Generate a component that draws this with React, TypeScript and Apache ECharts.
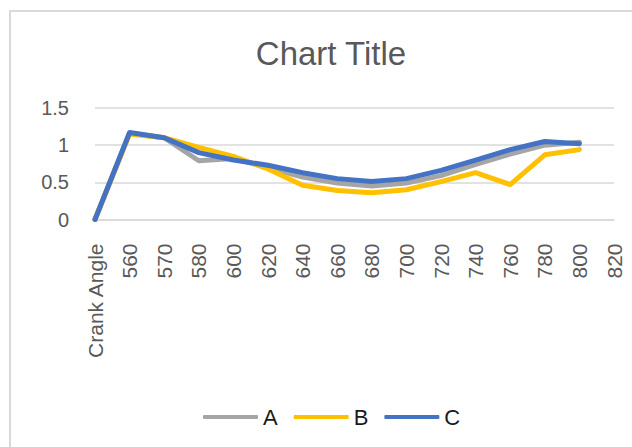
import React, { useEffect, useRef } from "react";
import * as echarts from "echarts";

const categories = ["Crank Angle", "560", "570", "580", "600", "620", "640", "660", "680", "700", "720", "740", "760", "780", "800", "820"];
const seriesA = [0, 1.16, 1.10, 0.79, 0.82, 0.70, 0.57, 0.49, 0.45, 0.49, 0.59, 0.74, 0.88, 1.00, 1.04, null];
const seriesB = [0, 1.15, 1.10, 0.97, 0.85, 0.68, 0.46, 0.39, 0.36, 0.40, 0.51, 0.63, 0.47, 0.87, 0.94, null];
const seriesC = [0, 1.17, 1.10, 0.90, 0.80, 0.73, 0.63, 0.55, 0.51, 0.55, 0.66, 0.80, 0.94, 1.05, 1.02, null];
const seriesNames = ["A", "B", "C"];
const colors = ["#A5A5A5", "#FFC000", "#4472C4"];
const yTicks = { min: 0, max: 1.5, interval: 0.5 };

export default function App() {
  const ref = useRef<HTMLDivElement>(null);
  useEffect(() => {
    if (!ref.current) return;
    const chart = echarts.init(ref.current, undefined, { renderer: "svg" });
    const data = [seriesA, seriesB, seriesC];
    chart.setOption({
      animation: false,
      color: colors,
      title: {
        text: "Chart Title",
        left: 326,
        top: 32,
        textAlign: "center",
        textStyle: {
          fontFamily: "Liberation Sans",
          fontSize: 33,
          fontWeight: "normal",
          color: "#595959",
        },
      },
      graphic: [
        {
          type: "rect",
          shape: { x: 10, y: 11, width: 700, height: 500 },
          style: { fill: "none", stroke: "#d9d9d9", lineWidth: 2 },
          silent: true,
        },
      ],
      legend: {
        left: 198,
        top: 401,
        icon: "roundRect",
        itemWidth: 55,
        itemHeight: 4,
        itemGap: 16,
        textStyle: {
          fontFamily: "Liberation Sans",
          fontSize: 22,
          color: "#1a1a1a",
        },
        data: seriesNames,
      },
      grid: { left: 95, right: 18, top: 108, bottom: 227.5, containLabel: false },
      xAxis: {
        type: "category",
        data: categories,
        boundaryGap: false,
        axisLine: { show: true, lineStyle: { color: "#d9d9d9", width: 1.5 } },
        axisTick: { show: false },
        axisLabel: {
          rotate: 90,
          interval: 0,
          margin: 24,
          fontFamily: "Liberation Sans",
          fontSize: 21,
          color: "#595959",
        },
      },
      yAxis: {
        type: "value",
        min: yTicks.min,
        max: yTicks.max,
        interval: yTicks.interval,
        axisLine: { show: false },
        axisTick: { show: false },
        splitLine: { lineStyle: { color: "#d9d9d9", width: 1.5 } },
        axisLabel: {
          margin: 26,
          fontFamily: "Liberation Sans",
          fontSize: 20,
          color: "#595959",
        },
      },
      series: data.map((d, i) => ({
        name: seriesNames[i],
        type: "line",
        data: d,
        symbol: "none",
        showSymbol: false,
        lineStyle: { width: 5, color: colors[i], cap: "round", join: "round" },
        itemStyle: { color: colors[i] },
      })),
    });
    return () => chart.dispose();
  }, []);
  return (
    <div
      ref={ref}
      style={{ position: "fixed", left: 0, top: 0, width: 632, height: 447, background: "#fff" }}
    />
  );
}
